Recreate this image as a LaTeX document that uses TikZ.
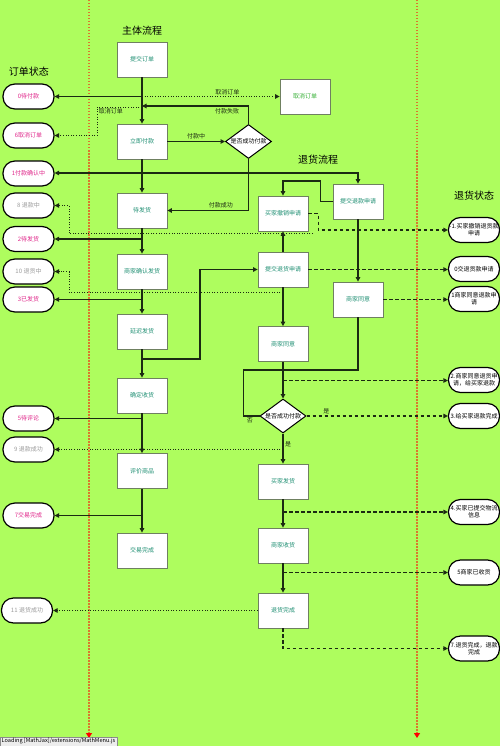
\documentclass[tikz,border=0pt]{standalone}
\usepackage{fontspec}
\setmainfont{Noto Sans CJK SC}
\usepackage{tikz}
\usetikzlibrary{arrows.meta,shapes.geometric}
\definecolor{RTBack}{HTML}{AEFD5E}
\definecolor{RTLine}{HTML}{1B2A12}
\definecolor{RTEdge}{HTML}{6F8060}
\definecolor{RTTeal}{HTML}{1F8F73}
\definecolor{RTGreen}{HTML}{36B036}
\definecolor{RTPink}{HTML}{E0268A}
\definecolor{RTGrey}{HTML}{9B9B9B}
\definecolor{RTGuide}{HTML}{D9782E}

\begin{document}
\begin{tikzpicture}[x=1pt,y=-1pt,
  box/.style={draw=RTEdge,fill=white,line width=0.8pt,minimum width=50pt,minimum height=35pt,inner sep=1pt,font=\fontsize{6}{7}\selectfont,text=RTTeal},
  state/.style={draw=black,fill=white,line width=1.2pt,rounded corners=12pt,minimum width=51pt,minimum height=25pt,inner sep=1pt,align=center,font=\fontsize{6}{7}\selectfont},
  decide/.style={diamond,draw=black,fill=white,line width=1pt,inner sep=0pt,minimum width=46pt,minimum height=34pt},
  title/.style={font=\fontsize{10}{12}\selectfont,text=black},
  lbl/.style={font=\fontsize{6}{7}\selectfont,text=RTLine,inner sep=1.5pt},
  flow/.style={draw=RTLine,line width=1.1pt,-{Triangle[length=4.5pt,width=4.5pt]}},
  plain/.style={draw=RTLine,line width=1.1pt},
  dashflow/.style={flow,dash pattern=on 3.5pt off 2.5pt},
  dotflow/.style={draw=RTLine,line width=0.9pt,dash pattern=on 1pt off 1.6pt,-{Triangle[length=4.5pt,width=4.5pt]}},
  guide/.style={draw=RTGuide,line width=1.1pt,dash pattern=on 1.5pt off 1.5pt,-{Triangle[length=5pt,width=6pt,color=red]}}]
\useasboundingbox (0,0) rectangle (500,746);
\fill[RTBack] (0,0) rectangle (500,746);
\coordinate (gl0) at (89,0);
\coordinate (gl1) at (89,738);
\coordinate (gr0) at (417,0);
\coordinate (gr1) at (417,738);
\draw[guide] (gl0) -- (gl1);
\draw[guide] (gr0) -- (gr1);
\node[title] (maintitle) at (142,31) {主体流程};
\node[title] (ordertitle) at (29,72) {订单状态};
\node[title] (backtitle) at (318,160) {退货流程};
\node[title] (backstatetitle) at (474,196) {退货状态};
\node[box] (sub) at (142,59.5) {提交订单};
\node[box] (pay) at (142,141.5) {立即付款};
\node[box] (wait) at (142,210.5) {待发货};
\node[box] (confirm) at (142,271.5) {商家确认发货};
\node[box] (delay) at (142,331.5) {延迟发货};
\node[box] (receive) at (142,395.5) {确定收货};
\node[box] (review) at (142,471) {评价商品};
\node[box] (done) at (142,550.5) {交易完成};
\node[box,text=RTGreen] (cancel) at (305,96.5) {取消订单};
\node[decide,label={[font=\fontsize{6}{7}\selectfont]center:是否成功付款}] (ispaid) at (248.5,141.5) {};
\node[box] (revoke) at (283,213.5) {买家撤销申请};
\node[box] (refundapply) at (358,201.5) {提交退款申请};
\node[box] (returnapply) at (283,269.5) {提交退货申请};
\node[box] (agreeR) at (358,299.5) {商家同意};
\node[box] (agreeL) at (283,344) {商家同意};
\node[decide,label={[font=\fontsize{6}{7}\selectfont]center:是否成功付款}] (ispaidb) at (283,416) {};
\node[box] (ship) at (283,481.5) {买家发货};
\node[box] (got) at (283,545.5) {商家收货};
\node[box] (returned) at (283,610.5) {退货完成};
\node[state,text=RTPink] (st0) at (28.5,96.5) {0待付款};
\node[state,text=RTPink] (st6) at (28.5,135.5) {6取消订单};
\node[state,text=RTPink] (st1) at (28.5,173.5) {1付款确认中};
\node[state,text=RTGrey] (st8) at (28.5,205.5) {8 退款中};
\node[state,text=RTPink] (st2) at (28.5,239) {2待发货};
\node[state,text=RTGrey] (st10) at (28.5,271.5) {10 退货中};
\node[state,text=RTPink] (st3) at (28.5,299.5) {3已发货};
\node[state,text=RTPink] (st5) at (28.5,418.5) {5待评论};
\node[state,text=RTGrey] (st9) at (28.5,449.5) {9 退款成功};
\node[state,text=RTPink] (st7) at (28.5,515.5) {7交易完成};
\node[state,text=RTGrey] (st11) at (27,610.5) {11 退货成功};
\node[state] (sm1) at (474,230) {-1.买家撤销退货款\\申请};
\node[state] (sm0) at (474,269) {0交退货款申请};
\node[state] (sm1b) at (474,299) {1商家同意退款申\\请};
\node[state] (sm2) at (474,380) {2.商家同意退货申\\请，给买家退款};
\node[state] (sm3) at (474,416) {3.给买家退款完成};
\node[state] (sm4) at (474,512) {4.买家已提交物流\\信息};
\node[state] (sm5) at (474,572.5) {5商家已收货};
\node[state] (sm7) at (474,648.5) {7.退货完成，退款\\完成};
\node[draw=black!45,fill=black!7,anchor=south west,inner sep=1.5pt,font=\fontsize{5.6}{6}\selectfont] (loading) at (0,746) {Loading [MathJax]/extensions/MathMenu.js};
\draw[flow] (sub) -- (pay);
\draw[flow] (sub |- st0) -- (st0);
\draw[dotflow] (sub |- cancel) -- node[lbl,above,pos=0.62]{取消订单} (cancel);
\coordinate (failin) at (142,106);
\draw[flow] (ispaid.north) |- node[lbl,below,pos=0.6]{付款失败} (failin);
\coordinate (cancelout) at (142,107);
\draw[dotflow] (cancelout) -- ++(-45,0) node[lbl,anchor=north west]{取消订单} |- (st6);
\draw[flow] (pay) -- node[lbl,above]{付款中} (ispaid);
\draw[flow] (pay) -- (wait);
\draw[flow] (ispaid.south) |- node[lbl,above,pos=0.67]{付款成功} (wait.east);
\coordinate (jone) at (142,173);
\draw[flow] (jone) -- (jone -| st1.east);
\draw[flow] (jone) -| (refundapply);
\draw[flow] (wait) -- (confirm);
\coordinate (jtwo) at (142,239);
\draw[flow] (jtwo) -- (st2);
\draw[flow] (confirm) -- (delay);
\coordinate (jthree) at (142,299.5);
\draw[flow] (jthree) -- (st3);
\draw[flow] (delay) -- (receive);
\coordinate (jdelay) at (142,359);
\draw[flow] (jdelay) -- ++(58,0) |- (returnapply);
\draw[flow] (receive) -- (review);
\coordinate (jfive) at (142,418.5);
\draw[flow] (jfive) -- (st5);
\draw[flow] (review) -- (done);
\coordinate (jseven) at (142,515.5);
\draw[flow] (jseven) -- (st7);
\coordinate (revoketop) at (283,181);
\draw[flow] (refundapply.west) -- ++(-12,0) |- (revoketop) -- (revoke);
\draw[dashflow] (revoke.east) -- ++(10,0) |- (sm1);
\coordinate (deight) at (313,233.5);
\draw[dotflow] (deight) -- ++(-244,0) |- (st8);
\draw[flow] (returnapply) -- (revoke);
\draw[flow] (returnapply) -- (agreeL);
\draw[dashflow] (returnapply.east) -- (returnapply.east -| sm0.west);
\coordinate (dten) at (283,292);
\draw[dotflow] (dten) -- ++(-214,0) |- (st10);
\draw[flow] (refundapply) -- (agreeR);
\draw[dashflow] (agreeR.east) -- (agreeR.east -| sm1b.west);
\draw[flow] (agreeL) -- (ispaidb);
\coordinate (jrtwo) at (283,380.5);
\draw[dashflow] (jrtwo) -- (jrtwo -| sm2.west);
\coordinate (noturn) at (358,370);
\draw[plain] (ispaidb.west) -- ++(-16,0) node[lbl,below,pos=0.6]{否} |- (noturn) -- (agreeR.south);
\draw[dashflow] (ispaidb.east) -- node[lbl,above,pos=0.14]{是} (ispaidb.east -| sm3.west);
\draw[flow] (ispaidb) -- node[lbl,right,pos=0.35]{是} (ship);
\coordinate (dnine) at (283,449.5);
\draw[dotflow] (dnine) -- (dnine -| st9.east);
\draw[flow] (ship) -- (got);
\coordinate (jrfour) at (283,512);
\draw[dashflow] (jrfour) -- (jrfour -| sm4.west);
\draw[flow] (got) -- (returned);
\coordinate (jrfive) at (283,572.5);
\draw[dashflow] (jrfive) -- (jrfive -| sm5.west);
\draw[dotflow] (returned.west) -- (returned.west -| st11.east);
\draw[dashflow] (returned.south) |- (sm7);
\end{tikzpicture}
\end{document}
